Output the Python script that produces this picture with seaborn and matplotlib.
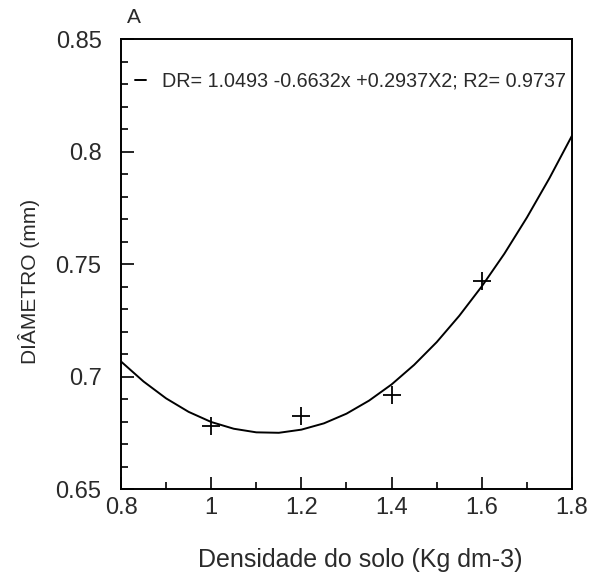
import pandas as pd
import seaborn as sns
from matplotlib import pyplot as plt
from matplotlib.ticker import MultipleLocator

# pontos observados
dens_obs = [1.0, 1.2, 1.4, 1.6]
diam_obs = [0.678, 0.6826, 0.6918, 0.7424]

# curva ajustada
dens_fit = [0.80, 0.85, 0.90, 0.95, 1.00, 1.05, 1.10, 1.15, 1.20, 1.25, 1.30,
            1.35, 1.40, 1.45, 1.50, 1.55, 1.60, 1.65, 1.70, 1.75, 1.80]
diam_fit = [0.7067, 0.6978, 0.6903, 0.6843, 0.6798, 0.6768, 0.6752, 0.6750,
            0.6764, 0.6792, 0.6835, 0.6893, 0.6965, 0.7052, 0.7153, 0.7270,
            0.7401, 0.7546, 0.7707, 0.7882, 0.8071]

x_ticks = [0.8, 1.0, 1.2, 1.4, 1.6, 1.8]
x_labels = ['0.8', '1', '1.2', '1.4', '1.6', '1.8']
y_ticks = [0.65, 0.7, 0.75, 0.8, 0.85]
y_labels = ['0.65', '0.7', '0.75', '0.8', '0.85']

legenda = 'DR= 1.0493 -0.6632x +0.2937X2; R2= 0.9737'

df_obs = pd.DataFrame({'dens': dens_obs, 'diam': diam_obs})
df_fit = pd.DataFrame({'dens': dens_fit, 'diam': diam_fit})

sns.set_style('ticks')
plt.rcParams['font.family'] = ['Liberation Sans', 'DejaVu Sans']
txt = '#2a2a2a'

fig = plt.figure(figsize=(5.92, 5.76), dpi=100)
ax = fig.add_axes([0.2044, 0.151, 0.7618, 0.781])

sns.lineplot(data=df_fit, x='dens', y='diam', color='black', linewidth=1.4,
             label=legenda, ax=ax)
sns.scatterplot(data=df_obs, x='dens', y='diam', marker='+', s=180,
                color='black', linewidth=1.3, ax=ax, legend=False)

ax.set_xlim(0.8, 1.8)
ax.set_ylim(0.65, 0.85)
ax.set_xticks(x_ticks)
ax.set_xticklabels(x_labels)
ax.set_yticks(y_ticks)
ax.set_yticklabels(y_labels)
ax.xaxis.set_minor_locator(MultipleLocator(0.1))
ax.yaxis.set_minor_locator(MultipleLocator(0.01))
ax.tick_params(which='both', direction='in', top=False, right=False,
               labelsize=17, labelcolor=txt, color='black', width=1.2)
ax.tick_params(which='major', length=9)
ax.tick_params(which='minor', length=5)
ax.tick_params(axis='x', which='major', pad=6)
ax.tick_params(axis='y', which='major', pad=14)
for s in ax.spines.values():
    s.set_linewidth(1.4)
    s.set_color('black')

ax.set_xlabel('Densidade do solo (Kg dm-3)', fontsize=18, color=txt)
ax.set_ylabel('DIÂMETRO (mm)', fontsize=15, color=txt)
ax.xaxis.set_label_coords(0.53, -0.13)
ax.yaxis.set_label_coords(-0.18, 0.462)

ax.legend(loc='upper left', bbox_to_anchor=(0.0, 0.958), frameon=False,
          fontsize=14.2, handlelength=0.55, handletextpad=0.85,
          labelcolor=txt, borderaxespad=0.3)

fig.text(0.2145, 0.97, 'A', fontsize=15, color=txt, va='center', ha='left')

fig.savefig('out.png', dpi=100)
